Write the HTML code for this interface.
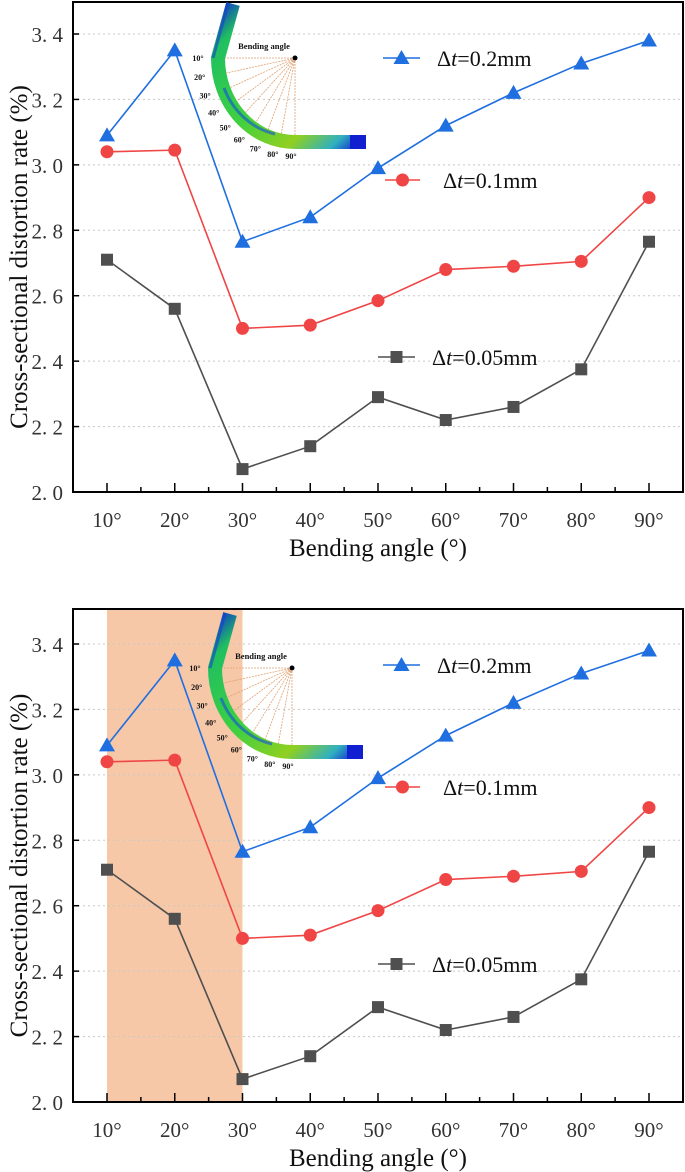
<!DOCTYPE html>
<html><head><meta charset="utf-8"><style>
body{margin:0;background:#fff}
svg{display:block}
text{font-family:"Liberation Serif",serif}
</style></head><body>
<svg id="s" width="685" height="1172" viewBox="0 0 685 1172" xmlns="http://www.w3.org/2000/svg">
<defs>
<linearGradient id="tg" x1="0" y1="0" x2="1" y2="1">
<stop offset="0" stop-color="#1030d0"/><stop offset="0.15" stop-color="#20c060"/><stop offset="0.5" stop-color="#40d040"/><stop offset="0.75" stop-color="#90d020"/><stop offset="0.9" stop-color="#30b0c0"/><stop offset="1" stop-color="#1020d0"/>
</linearGradient>
</defs>
</svg>
<script>
const categories=["10°","20°","30°","40°","50°","60°","70°","80°","90°"];
const angles=[10,20,30,40,50,60,70,80,90];
const seriesBlue=[3.09,3.35,2.765,2.84,2.99,3.12,3.22,3.31,3.38];
const seriesRed=[3.04,3.045,2.50,2.51,2.585,2.68,2.69,2.705,2.90];
const seriesBlack=[2.71,2.56,2.07,2.14,2.29,2.22,2.26,2.375,2.765];
const yTicks=[2.0,2.2,2.4,2.6,2.8,3.0,3.2,3.4];
const yTickLabels=["2.\u00a00","2.\u00a02","2.\u00a04","2.\u00a06","2.\u00a08","3.\u00a00","3.\u00a02","3.\u00a04"];
const legendLabels=["0.2mm","0.1mm","0.05mm"];
const shadeRange=[10,30];
const insetAngles=[10,20,30,40,50,60,70,80,90];

const svg=document.getElementById('s');
const NS="http://www.w3.org/2000/svg";
function mk(tag,attrs,parent){const e=document.createElementNS(NS,tag);for(const k in attrs)e.setAttribute(k,attrs[k]);(parent||svg).appendChild(e);return e;}

function chart(top,bottom,shade,name){
  const g=mk('g',{});
  
  
  const L=73,R=683,x10=107,x90=649;
  const xs=a=>x10+(a-10)*(x90-x10)/80;
  const y0=bottom, y34=bottom-458;
  const ys=v=>y0-(v-2.0)*(y0-y34)/1.4;
  if(shade){
    const r=mk('rect',{x:xs(shadeRange[0]),y:top,width:xs(shadeRange[1])-xs(shadeRange[0]),height:bottom-top,fill:'#f6c8a8'},g);
    
    
  }
  yTicks.forEach((t,i)=>{
    if(i>0){const gl=mk('line',{x1:L,x2:R,y1:ys(t),y2:ys(t),stroke:'#c8c8c8','stroke-dasharray':'2,3','stroke-width':1},g);
    }
    mk('line',{x1:L,x2:L+6,y1:ys(t),y2:ys(t),stroke:'#000','stroke-width':1.5},g);
    const tx=mk('text',{x:L-10,y:ys(t)+8,'text-anchor':'end','font-size':21,fill:'#333'},g);
    tx.textContent=yTickLabels[i];
    
  });
  for(let a=5;a<=95;a+=5){
    const x=xs(a); if(x<=L||x>=R)continue;
    const major=a%10===0;
    mk('line',{x1:x,x2:x,y1:bottom,y2:bottom-(major?9:5),stroke:'#000','stroke-width':1.5},g);
  }
  categories.forEach((c,i)=>{
    const tx=mk('text',{x:xs(angles[i]),y:bottom+35,'text-anchor':'middle','font-size':21,fill:'#333'},g);
    tx.textContent=c;
    
  });
  const box=mk('rect',{x:L,y:top,width:R-L,height:bottom-top,fill:'none',stroke:'#000','stroke-width':2},g);
  
  const xt=mk('text',{x:378,y:bottom+64,'text-anchor':'middle','font-size':25,fill:'#111'},g);
  xt.textContent='Bending angle (°)';
  
  const yt=mk('text',{x:0,y:0,'text-anchor':'middle','font-size':25,fill:'#111',transform:`translate(27,${(top+bottom)/2+10}) rotate(-90)`},g);
  yt.textContent='Cross-sectional distortion rate (%)';
  

  const cx=295-(shade?3:0), cy=top+56+(shade?3:0);
  const ig=mk('g',{},g);
  
  const rx=77, ry=84;
  mk('path',{d:`M${cx-62},${cy-54} L${cx-rx},${cy} A${rx},${ry} 0 0 0 ${cx},${cy+ry} L${cx+71},${cy+ry}`,fill:'none',stroke:'url(#tg)','stroke-width':14},ig);
  mk('path',{d:`M${cx-67},${cy-54} L${cx-rx-5},${cy}`,fill:'none',stroke:'#1840d0','stroke-width':3,opacity:0.6},ig);
  mk('path',{d:`M${cx+55},${cy+ry} L${cx+71},${cy+ry}`,fill:'none',stroke:'#1020d0','stroke-width':14},ig);
  mk('path',{d:`M${cx-rx+6},${cy+30} A${rx-6},${ry-6} 0 0 0 ${cx-20},${cy+ry-8}`,fill:'none',stroke:'#1050e0','stroke-width':3,opacity:0.6},ig);
  insetAngles.forEach((a,i)=>{
    const th=Math.PI*(a-10)/80/2;
    const ex=cx-(rx-7)*Math.cos(th), ey=cy+(ry-7)*Math.sin(th);
    mk('line',{x1:cx,y1:cy,x2:ex,y2:ey,stroke:'#e0a070','stroke-width':0.8,'stroke-dasharray':'2,1'},ig);
    const lx=cx-(rx+16)*Math.cos(th)-4, ly=cy+(ry+14)*Math.sin(th)+3;
    const t=mk('text',{x:lx,y:ly,'text-anchor':'middle','font-size':8,'font-weight':'bold',fill:'#111'},ig);
    t.textContent=a+'°';
  });
  mk('circle',{cx:cx,cy:cy,r:2.5,fill:'#000'},ig);
  const bt=mk('text',{x:cx-31,y:cy-9,'text-anchor':'middle','font-size':8.5,'font-weight':'bold',fill:'#111'},ig);
  bt.textContent='Bending angle';

  function series(vals,color,shape,nm,li,legY,lx1,lx2,tx){
    const sg=mk('g',{},g);
    
    mk('polyline',{points:vals.map((v,i)=>xs(angles[i])+','+ys(v)).join(' '),fill:'none',stroke:color,'stroke-width':1.6},sg);
    const mark=(x,y)=>{
      if(shape==='tri')mk('path',{d:`M${x},${y-8} L${x+8},${y+6} L${x-8},${y+6}Z`,fill:color},sg);
      else if(shape==='circ')mk('circle',{cx:x,cy:y,r:6.5,fill:color},sg);
      else mk('rect',{x:x-6,y:y-6,width:12,height:12,fill:color},sg);
    };
    vals.forEach((v,i)=>{mark(xs(angles[i]),ys(v));});
    const ly=top+legY;
    mk('line',{x1:lx1,x2:lx2,y1:ly,y2:ly,stroke:color,'stroke-width':1.6},sg);
    mark((lx1+lx2)/2,ly);
    const t=mk('text',{x:tx,y:ly+8,'font-size':22,fill:'#111'},sg);
    t.innerHTML='Δ<tspan font-style="italic">t</tspan>=';
    const ts=mk('tspan',{},t); ts.textContent=legendLabels[li];
    
  }
  series(seriesBlack,'#4f4f4f','sq','series-0-05mm',2,355,378,415,432);
  series(seriesRed,'#f04545','circ','series-0-1mm',1,178,385,420,443);
  series(seriesBlue,'#1f6fe0','tri','series-0-2mm',0,56,383,420,437);
}
chart(2,492,false,'chart-top');
chart(609,1102,true,'chart-bottom');
</script>
</body></html>
